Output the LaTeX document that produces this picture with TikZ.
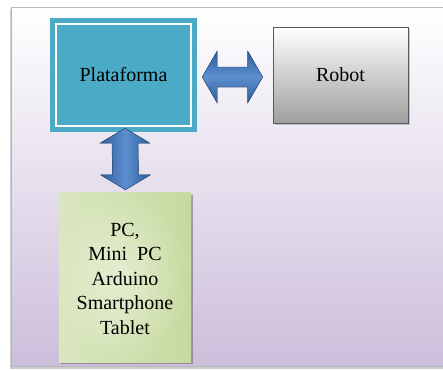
\documentclass[tikz,border=0pt]{standalone}
\usepackage{fontspec}
\setmainfont{Liberation Serif}
\newfontfamily\boxfont{Liberation Serif}
\usetikzlibrary{calc,shadows}
\definecolor{teal1}{HTML}{4BAAC5}
\definecolor{arrowdark}{HTML}{2F5C99}
\definecolor{arrowlight}{HTML}{5C8FD0}
\definecolor{lavender}{HTML}{CCBEDB}
\definecolor{greendark}{HTML}{C6DA9E}
\definecolor{greenlight}{HTML}{EEF4E2}
\tikzset{
  boxtext/.style={font=\boxfont\fontsize{20}{24.5}\selectfont, align=center, inner sep=0pt},
  dblarrowh/.style={draw=arrowdark!80!black, line width=0.4pt, top color=arrowdark, bottom color=arrowdark, middle color=arrowlight},
  dblarrowv/.style={draw=arrowdark!80!black, line width=0.4pt, left color=arrowdark, right color=arrowdark, middle color=arrowlight},
}
\begin{document}
\begin{tikzpicture}[x=1pt,y=-1pt]
\useasboundingbox (0,0) rectangle (443,370);
% frame
\fill[gray!40] (10,9) rectangle (445,368.5);
\shade[top color=white, bottom color=lavender, draw=gray!55, line width=0.5pt] (11,7) rectangle (445,366);
% Plataforma
\node[fill=teal1, minimum width=147, minimum height=114, inner sep=0pt] (plat) at (123.5,75) {};
\draw[white, line width=2pt] ($(plat.north west)+(6,6)$) rectangle ($(plat.south east)+(-6,-6)$);
\node[boxtext] (plattext) at (plat.center) {Plataforma};
% Robot
\node[draw=gray!70!black, line width=0.6pt, top color=white, bottom color=gray!75, minimum width=135, minimum height=96, inner sep=0pt, drop shadow={shadow xshift=2pt, shadow yshift=-2pt, opacity=0.4, fill=gray}] (robot) at (340.5,75) {};
\node[boxtext] (robottext) at (robot.center) {Robot};
% PC box
\node[fill=greendark, minimum width=132, minimum height=169, inner sep=0pt, drop shadow={shadow xshift=2pt, shadow yshift=-2pt, opacity=0.5, fill=gray!70!black}] (pc) at (125,277.5) {};
\shade[inner color=greenlight, outer color=greendark] (pc.north west) rectangle (pc.south east);
\shade[left color=greenlight, right color=greendark, opacity=0.5] (pc.north west) rectangle (pc.south east);
\node[boxtext] (pctext) at ($(pc.center)+(0,1)$) {PC,\\Mini\ \ PC\\Arduino\\Smartphone\\Tablet};
% horizontal double arrow
\coordinate (hA) at ($(plat.east)+(5,2)$);
\coordinate (hB) at ($(robot.west)+(-10,2)$);
\filldraw[dblarrowh] (hA) -- ++(15,-26) -- ++(0,16) -- ($(hB)+(-15,-10)$) -- ++(0,-16) -- (hB) -- ++(-15,26) -- ++(0,-16) -- ($(hA)+(15,10)$) -- ++(0,16) -- cycle;
% vertical double arrow
\coordinate (vA) at ($(plat.south)+(1.5,-4)$);
\coordinate (vB) at ($(pc.north)+(0.5,-3)$);
\filldraw[dblarrowv] (vA) -- ++(25,15) -- ++(-12,0) -- ($(vB)+(13,-15)$) -- ++(12,0) -- (vB) -- ++(-25,-15) -- ++(12,0) -- ($(vA)+(-13,15)$) -- ++(-12,0) -- cycle;
\end{tikzpicture}
\end{document}
